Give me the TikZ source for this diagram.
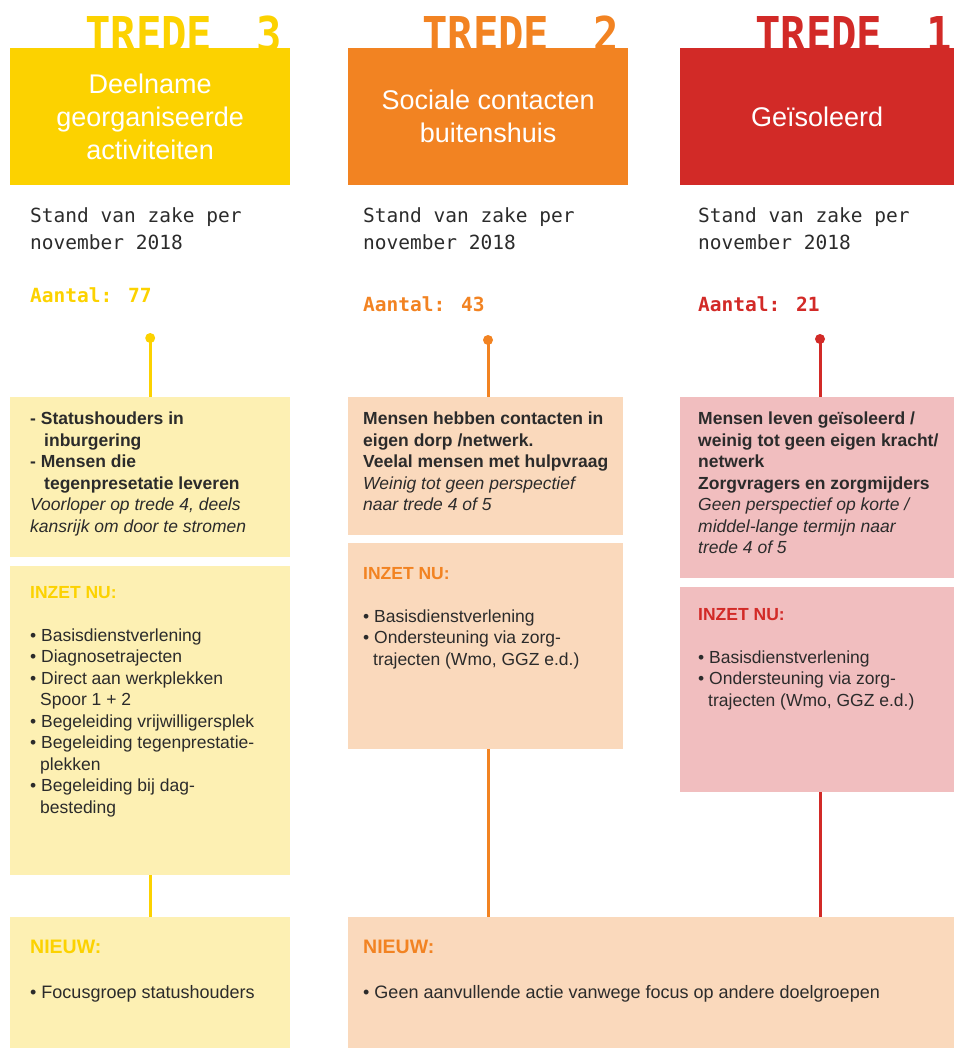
\documentclass[tikz,border=0pt]{standalone}
\usepackage{fontspec}
\setmainfont{Liberation Sans}
\newfontfamily\standfont{DejaVu Sans Mono}
\newfontfamily\tredefont[FakeStretch=0.88]{DejaVu Sans Mono}
\usepackage{xcolor}
\usepackage{tikz}
\usetikzlibrary{positioning}
\definecolor{geel}{HTML}{FCD200}
\definecolor{oranje}{HTML}{F28322}
\definecolor{rood}{HTML}{D22A27}
\definecolor{lichtgeel}{HTML}{FDF0B3}
\definecolor{lichtoranje}{HTML}{FAD9BC}
\definecolor{lichtrood}{HTML}{F1BEBF}
\definecolor{tekstgrijs}{HTML}{2B2B2B}

\begin{document}
\begin{tikzpicture}[x=1pt,y=-1pt]
	\tikzstyle{every node}+=[inner sep=0pt]
	\tikzstyle{trede}=[anchor=base west, font=\tredefont\bfseries\fontsize{48}{48}\selectfont]
	\tikzstyle{kop}=[rectangle, anchor=north west, minimum width=280pt, minimum height=137pt, text=white, align=center, font=\fontsize{27}{33}\selectfont]
	\tikzstyle{vak}=[rectangle, anchor=north west]
	\tikzstyle{stand}=[anchor=north west, align=left, text=tekstgrijs, font=\standfont\fontsize{19.5}{27}\selectfont]
	\tikzstyle{aantal}=[anchor=north west, font=\standfont\bfseries\fontsize{19.5}{27}\selectfont]
	\tikzstyle{tekst}=[anchor=north west, align=left, text=tekstgrijs, font=\fontsize{17.5}{21.5}\selectfont]
	\tikzstyle{nieuw}=[anchor=north west, align=left, text=tekstgrijs, font=\fontsize{18}{22}\selectfont]
	\tikzstyle{punt}=[circle, minimum size=10pt]
	\useasboundingbox (0,0) rectangle (954,1048);
	\node [trede, text=geel] (tr3) at (85,52) {TREDE\hspace*{44pt}3};
	\node [trede, text=oranje] (tr2) at (422,52) {TREDE\hspace*{44pt}2};
	\node [trede, text=rood] (tr1) at (755,52) {TREDE\hspace*{44pt}1};
	\node [kop, fill=geel] (k3) at (10,48) {Deelname\\georganiseerde\\activiteiten};
	\node [kop, fill=oranje] (k2) at (348,48) {Sociale contacten\\buitenshuis};
	\node [kop, fill=rood, minimum width=274pt] (k1) at (680,48) {Geïsoleerd};
	\node [stand] (s3) at (30,207) {Stand van zake per\\november 2018};
	\node [stand] (s2) at (363,207) {Stand van zake per\\november 2018};
	\node [stand] (s1) at (698,207) {Stand van zake per\\november 2018};
	\node [aantal, text=geel] (a3) at (30,287) {Aantal: 77};
	\node [aantal, text=oranje] (a2) at (363,296) {Aantal: 43};
	\node [aantal, text=rood] (a1) at (698,296) {Aantal: 21};
	\node [vak, fill=lichtgeel, minimum width=280pt, minimum height=160pt] (v31) at (10,397) {};
	\node [vak, fill=lichtgeel, minimum width=280pt, minimum height=309pt] (v32) at (10,566) {};
	\node [vak, fill=lichtgeel, minimum width=280pt, minimum height=131pt] (v33) at (10,917) {};
	\node [vak, fill=lichtoranje, minimum width=275pt, minimum height=138pt] (v21) at (348,397) {};
	\node [vak, fill=lichtoranje, minimum width=275pt, minimum height=206pt] (v22) at (348,543) {};
	\node [vak, fill=lichtrood, minimum width=274pt, minimum height=181pt] (v11) at (680,397) {};
	\node [vak, fill=lichtrood, minimum width=274pt, minimum height=205pt] (v12) at (680,587) {};
	\node [vak, fill=lichtoranje, minimum width=606pt, minimum height=131pt] (nw) at (348,917) {};
	\node [punt, fill=geel] (p3) at (v31.north |- 0,338) {};
	\node [punt, fill=oranje] (p2) at (488,340) {};
	\node [punt, fill=rood] (p1) at (820,339) {};
	\draw [geel, line width=3pt] (p3.center) -- (v31.north);
	\draw [oranje, line width=3pt] (p2.center) -- (p2 |- v21.north);
	\draw [rood, line width=3pt] (p1.center) -- (p1 |- v11.north);
	\draw [geel, line width=3pt] (v32.south) -- (v33.north);
	\draw [oranje, line width=3pt] (p2 |- v22.south) -- (p2 |- nw.north);
	\draw [rood, line width=3pt] (p1 |- v12.south) -- (p1 |- nw.north);
	\node [tekst] (t31) at ([shift={(20,15)}]v31.north west) {\bfseries - Statushouders in\\\bfseries\hspace*{14pt}inburgering\\\bfseries - Mensen die\\\bfseries\hspace*{14pt}tegenpresetatie leveren\\\itshape Voorloper op trede 4, deels\\\itshape kansrijk om door te stromen};
	\node [tekst] (t32) at ([shift={(20,20)}]v32.north west) {\textcolor{geel}{\bfseries INZET NU:}\\[21.5pt]\textbullet\ Basisdienstverlening\\\textbullet\ Diagnosetrajecten\\\textbullet\ Direct aan werkplekken\\\hspace*{10pt}Spoor 1 + 2\\\textbullet\ Begeleiding vrijwilligersplek\\\textbullet\ Begeleiding tegenprestatie-\\\hspace*{10pt}plekken\\\textbullet\ Begeleiding bij dag-\\\hspace*{10pt}besteding};
	\node [nieuw] (t33) at ([shift={(20,23)}]v33.north west) {\textcolor{geel}{\fontsize{19.5}{22}\selectfont\bfseries NIEUW:}\\[23pt]\textbullet\ Focusgroep statushouders};
	\node [tekst] (t21) at ([shift={(15,15)}]v21.north west) {\bfseries Mensen hebben contacten in\\\bfseries eigen dorp /netwerk.\\\bfseries Veelal mensen met hulpvraag\\\itshape Weinig tot geen perspectief\\\itshape naar trede 4 of 5};
	\node [tekst] (t22) at ([shift={(15,24)}]v22.north west) {\textcolor{oranje}{\bfseries INZET NU:}\\[21.5pt]\textbullet\ Basisdienstverlening\\\textbullet\ Ondersteuning via zorg-\\\hspace*{10pt}trajecten (Wmo, GGZ e.d.)};
	\node [tekst] (t11) at ([shift={(18,15)}]v11.north west) {\bfseries Mensen leven geïsoleerd /\\\bfseries weinig tot geen eigen kracht/\\\bfseries netwerk\\\bfseries Zorgvragers en zorgmijders\\\itshape Geen perspectief op korte /\\\itshape middel-lange termijn naar\\\itshape trede 4 of 5};
	\node [tekst] (t12) at ([shift={(18,21)}]v12.north west) {\textcolor{rood}{\bfseries INZET NU:}\\[21.5pt]\textbullet\ Basisdienstverlening\\\textbullet\ Ondersteuning via zorg-\\\hspace*{10pt}trajecten (Wmo, GGZ e.d.)};
	\node [nieuw] (tnw) at ([shift={(15,23)}]nw.north west) {\textcolor{oranje}{\fontsize{19.5}{22}\selectfont\bfseries NIEUW:}\\[23pt]\textbullet\ Geen aanvullende actie vanwege focus op andere doelgroepen};
\end{tikzpicture}
\end{document}
